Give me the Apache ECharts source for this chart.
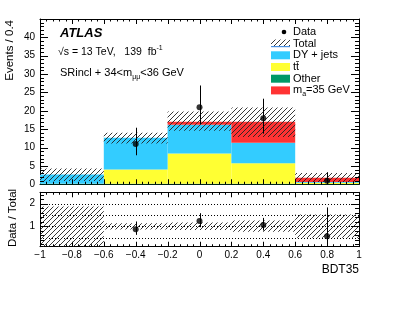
<!DOCTYPE html>
<html><head><meta charset="utf-8">
<script src="https://cdn.jsdelivr.net/npm/echarts@6/dist/echarts.min.js"></script>
<style>html,body{margin:0;padding:0;background:#fff}#c{width:399px;height:309px}</style>
</head><body><div id="c"></div>
<script>
// ---------------- data ----------------
const binEdges = [-1.0, -0.6, -0.2, 0.2, 0.6, 1.0];
const otherBkg = [0.1, 0.15, 0.15, 0.15, 0.05];
const ttbar = [0.05, 3.9, 8.25, 5.55, 0.4];
const dyJets = [2.55, 8.65, 7.8, 5.6, 0.15];
const signal = [0.0, 0.0, 0.85, 5.7, 1.2];
const totalLow = [0.9, 11.1, 14.6, 12.9, 0.6];
const totalHigh = [4.3, 14.0, 19.8, 20.9, 3.1];
const ratioBandLow = [0.0, 0.86, 0.84, 0.76, 0.5];
const ratioBandHigh = [1.87, 1.14, 1.17, 1.26, 1.52];
const dataX = [-0.4, 0.0, 0.4, 0.8];
const dataY = [11, 21, 18, 1];
const dataErrUp = [4.4, 5.9, 5.3, 2.3];
const dataErrDown = [3.1, 4.6, 4.2, 0.83];
const ratioYLabels = [1, 2];
const ratioGridLines = [0.5, 1.0, 1.5, 2.0];

// ---------------- helpers ----------------
const FONT = "'Liberation Sans', Arial, Helvetica, sans-serif";
const RMIN = 0.1, RMAX = 2.5;

function makeHatch() {
  const c = document.createElement('canvas');
  c.width = 5; c.height = 5;
  const g = c.getContext('2d');
  g.strokeStyle = '#222';
  g.lineWidth = 0.9;
  g.beginPath();
  g.moveTo(-1, 6); g.lineTo(6, -1);
  g.moveTo(-1, 1); g.lineTo(1, -1);
  g.moveTo(4, 6); g.lineTo(6, 4);
  g.stroke();
  return c;
}
const hatch = { image: makeHatch(), repeat: 'repeat' };

const totals = binEdges.slice(0, -1).map((_, i) => otherBkg[i] + ttbar[i] + dyJets[i] + signal[i]);
function binOf(x) {
  for (let i = 0; i < binEdges.length - 1; i++) if (x >= binEdges[i] && x < binEdges[i + 1]) return i;
  return binEdges.length - 2;
}

const comps = [
  { vals: otherBkg, color: '#009966' },
  { vals: ttbar, color: '#ffff33' },
  { vals: dyJets, color: '#33ccff' },
  { vals: signal, color: '#ff3333' }
];
const stackRects = comps.map(() => []);
for (let i = 0; i < binEdges.length - 1; i++) {
  let base = 0;
  comps.forEach((c, k) => {
    stackRects[k].push([binEdges[i], binEdges[i + 1], base, base + c.vals[i]]);
    base += c.vals[i];
  });
}

function rectRender(fill, lo, hi) {
  return function (params, api) {
    let y0 = api.value(2), y1 = api.value(3);
    if (lo !== undefined) { y0 = Math.max(y0, lo); y1 = Math.min(y1, hi); }
    if (!(y1 > y0)) return null;
    const p0 = api.coord([api.value(0), y1]);
    const p1 = api.coord([api.value(1), y0]);
    return { type: 'rect', shape: { x: p0[0], y: p0[1], width: p1[0] - p0[0], height: p1[1] - p0[1] }, style: { fill: fill } };
  };
}
function errRender(lo, hi) {
  return function (params, api) {
    const x = api.value(0);
    let a = api.value(1), b = api.value(2);
    if (lo !== undefined) { a = Math.max(a, lo); b = Math.min(b, hi); }
    const p0 = api.coord([x, a]), p1 = api.coord([x, b]);
    const xx = Math.round(p0[0]) + 0.5;
    return { type: 'line', shape: { x1: xx, y1: p0[1], x2: xx, y2: p1[1] }, style: { stroke: '#000', lineWidth: 1 } };
  };
}

const bandMain = binEdges.slice(0, -1).map((e, i) => [e, binEdges[i + 1], totalLow[i], totalHigh[i]]);
const bandRatio = binEdges.slice(0, -1).map((e, i) => [e, binEdges[i + 1], ratioBandLow[i], ratioBandHigh[i]]);
const dataPts = dataX.map((x, i) => [x, dataY[i]]);
const dataErr = dataX.map((x, i) => [x, dataY[i] - dataErrDown[i], dataY[i] + dataErrUp[i]]);
const ratioPts = dataX.map((x, i) => [x, dataY[i] / totals[binOf(x)]]);
const ratioErr = dataX.map((x, i) => {
  const t = totals[binOf(x)];
  return [x, (dataY[i] - dataErrDown[i]) / t, (dataY[i] + dataErrUp[i]) / t];
});

function lineBlack() { return { color: '#000', width: 1 }; }
function xAx(grid, pos, labels) {
  return {
    type: 'value', gridIndex: grid, position: pos, min: -1, max: 1, interval: 0.2,
    axisLine: { show: true, onZero: false, lineStyle: lineBlack() },
    axisTick: { show: false },
    splitLine: { show: false },
    axisLabel: {
      show: labels, color: '#000', fontSize: 10, fontFamily: FONT, margin: 4,
      formatter: v => String(Math.round(v * 10) / 10).replace('-', '\u2212')
    }
  };
}
function yMain(pos, labels) {
  return {
    type: 'value', gridIndex: 0, position: pos, min: 0, max: 45, interval: 5,
    axisLine: { show: true, onZero: false, lineStyle: lineBlack() },
    axisTick: { show: false },
    splitLine: { show: false },
    axisLabel: { show: labels, showMaxLabel: false, color: '#000', fontSize: 10, fontFamily: FONT, margin: 5 }
  };
}
function yRatio(pos, labels) {
  return {
    type: 'value', gridIndex: 1, position: pos, min: RMIN, max: RMAX,
    axisLine: { show: true, onZero: false, lineStyle: lineBlack() },
    axisTick: { show: false },
    splitLine: { show: false },
    axisLabel: { show: labels, customValues: ratioYLabels, color: '#000', fontSize: 10, fontFamily: FONT, margin: 5 }
  };
}

const series = [];
comps.forEach((c, k) => series.push({
  type: 'custom', xAxisIndex: 0, yAxisIndex: 0, data: stackRects[k], renderItem: rectRender(c.color), z: 2
}));
series.push({ type: 'custom', xAxisIndex: 0, yAxisIndex: 0, data: bandMain, renderItem: rectRender(hatch), z: 3 });
series.push({ type: 'custom', xAxisIndex: 0, yAxisIndex: 0, data: dataErr, renderItem: errRender(), z: 4 });
series.push({ type: 'scatter', xAxisIndex: 0, yAxisIndex: 0, data: dataPts, symbolSize: 6, itemStyle: { color: '#000' }, z: 5 });
series.push({
  type: 'custom', xAxisIndex: 2, yAxisIndex: 2, data: ratioGridLines.map(v => [0, v]), z: 1,
  renderItem: function (params, api) {
    const v = api.value(1);
    const p0 = api.coord([-1, v]), p1 = api.coord([1, v]);
    const y = Math.round(p0[1]) + 0.5;
    return { type: 'line', shape: { x1: p0[0], y1: y, x2: p1[0], y2: y }, style: { stroke: '#000', lineWidth: 1, lineDash: [1, 2] } };
  }
});
series.push({ type: 'custom', xAxisIndex: 2, yAxisIndex: 2, data: bandRatio, renderItem: rectRender(hatch, RMIN, RMAX), z: 3 });
series.push({ type: 'custom', xAxisIndex: 2, yAxisIndex: 2, data: ratioErr, renderItem: errRender(RMIN, RMAX), z: 4 });
series.push({ type: 'scatter', xAxisIndex: 2, yAxisIndex: 2, data: ratioPts, symbolSize: 6, itemStyle: { color: '#000' }, z: 5 });

const legendRows = [
  { y: 32, label: 'Data', kind: 'dot' },
  { y: 43.5, label: 'Total', kind: 'hatch' },
  { y: 55.3, label: 'DY + jets', kind: 'box', color: '#33ccff' },
  { y: 67, label: '{n|tt\u0304}', kind: 'box', color: '#ffff33' },
  { y: 78.7, label: 'Other', kind: 'box', color: '#009966' },
  { y: 90.4, label: '{n|m}{sub|a}{n|=35 GeV}', kind: 'box', color: '#ff3333' }
];
const rich = {
  n: { fontSize: 11, lineHeight: 15, fontFamily: FONT, color: '#000' },
  sub: { fontSize: 7, fontFamily: FONT, color: '#000', verticalAlign: 'bottom' },
  sup: { fontSize: 7, fontFamily: FONT, color: '#000', verticalAlign: 'top' }
};
const graphics = [];
legendRows.forEach(r => {
  if (r.kind === 'dot') graphics.push({ type: 'circle', shape: { cx: 284, cy: r.y, r: 2.3 }, style: { fill: '#000' } });
  else if (r.kind === 'hatch') {
    graphics.push({ type: 'rect', shape: { x: 271, y: r.y - 4, width: 19, height: 7 }, style: { fill: hatch } });
    graphics.push({ type: 'rect', shape: { x: 271, y: r.y + 2.5, width: 19, height: 1.2 }, style: { fill: '#4a90e2' } });
  } else graphics.push({ type: 'rect', shape: { x: 271, y: r.y - 4, width: 19, height: 8 }, style: { fill: r.color } });
  graphics.push({ type: 'text', x: 293, y: r.y, style: { text: r.label.indexOf('{') === 0 ? r.label : '{n|' + r.label + '}', rich: rich, verticalAlign: 'middle', align: 'left' } });
});
graphics.push({ type: 'text', x: 60, y: 33, style: { text: 'ATLAS', font: 'italic bold 13px ' + FONT, fill: '#000', verticalAlign: 'middle' } });
graphics.push({ type: 'text', x: 58, y: 52.5, style: { text: '{n|\u221As = 13 TeV,   139  fb}{sup|-1}', rich: { n: { fontSize: 10.5, lineHeight: 15, fontFamily: FONT, color: '#000' }, sup: rich.sup }, verticalAlign: 'middle' } });
graphics.push({ type: 'text', x: 60, y: 73, style: { text: '{n|SRincl + 34<m}{sub|\u03BC\u03BC}{n|<36 GeV}', rich: rich, verticalAlign: 'middle' } });
graphics.push({ type: 'text', x: 10, y: 20, rotation: Math.PI / 2, style: { text: 'Events / 0.4', font: '11.5px ' + FONT, fill: '#000', align: 'right', verticalAlign: 'middle' } });
graphics.push({ type: 'text', x: 13, y: 218, rotation: Math.PI / 2, style: { text: 'Data / Total', font: '11.5px ' + FONT, fill: '#000', align: 'center', verticalAlign: 'middle' } });
graphics.push({ type: 'text', x: 359, y: 270, style: { text: 'BDT35', font: '12px ' + FONT, fill: '#000', align: 'right', verticalAlign: 'middle' } });

const GRIDS = [
  { left: 40, top: 19, width: 319, height: 165.3 },
  { left: 40, top: 192.3, width: 319, height: 54.4 }
];
const AXIDX = [[0, 0], [2, 2]];
const chart = echarts.init(document.getElementById('c'), null, { renderer: 'canvas' });
chart.setOption({
  animation: false,
  backgroundColor: '#fff',
  grid: GRIDS,
  xAxis: [xAx(0, 'bottom', false), xAx(0, 'top', false), xAx(1, 'bottom', true), xAx(1, 'top', false)],
  yAxis: [yMain('left', true), yMain('right', false), yRatio('left', true), yRatio('right', false)],
  series: series,
  graphic: graphics
});

// ---- inside tick marks on all four sides (thin filled rects), positioned through the axes' scales ----
const tickEls = [];
function tk(x, y, w, h) { tickEls.push({ type: 'rect', z: 100, shape: { x: x, y: y, width: w, height: h }, style: { fill: '#000' } }); }
GRIDS.forEach((g, gi) => {
  const finder = { xAxisIndex: AXIDX[gi][0], yAxisIndex: AXIDX[gi][1] };
  const top = g.top, bot = g.top + g.height, lft = g.left, rgt = g.left + g.width;
  for (let k = 1; k < 50; k++) {
    const v = -1 + k * 0.04;
    const len = (k % 5 === 0) ? 5 : 2.5;
    const x = Math.round(chart.convertToPixel(finder, [v, 1])[0]);
    tk(x, bot - len, 1, len);
    tk(x, top, 1, len);
  }
  const yv = [];
  if (gi === 0) { for (let k = 1; k < 45; k++) yv.push([k, k % 5 === 0 ? 8 : 4]); }
  else { for (let k = 1; k <= 12; k++) yv.push([k * 0.2, k % 5 === 0 ? 8 : 4]); }
  yv.forEach(([v, len]) => {
    const y = Math.round(chart.convertToPixel(finder, [0, v])[1]);
    tk(lft, y, len, 1);
    tk(rgt - len, y, len, 1);
  });
});
chart.setOption({ graphic: graphics.concat(tickEls) });
</script></body></html>
